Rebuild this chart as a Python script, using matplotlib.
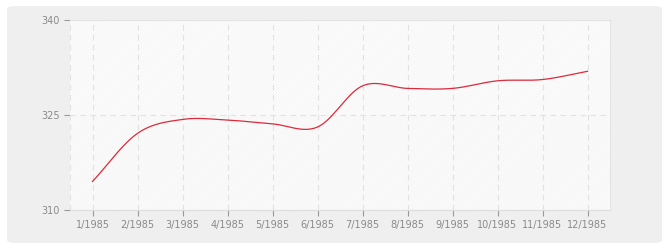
"""Monthly values for 1985, smooth line on a hatched panel."""

import matplotlib.pyplot as plt
import numpy as np
from matplotlib.patches import FancyBboxPatch

months = ["1/1985", "2/1985", "3/1985", "4/1985", "5/1985", "6/1985",
          "7/1985", "8/1985", "9/1985", "10/1985", "11/1985", "12/1985"]
values = [314.5, 322.1, 324.3, 324.2, 323.6, 323.1,
          329.6, 329.2, 329.2, 330.4, 330.6, 331.9]
y_ticks = [310, 325, 340]


def catmull_rom(x, y, steps=30):
    # smooth curve through every point, as the original renderer does
    x = np.asarray(x, dtype=float)
    y = np.asarray(y, dtype=float)
    px = np.concatenate([[2 * x[0] - x[1]], x, [2 * x[-1] - x[-2]]])
    py = np.concatenate([[2 * y[0] - y[1]], y, [2 * y[-1] - y[-2]]])
    out_x, out_y = [], []
    t = np.linspace(0, 1, steps, endpoint=False)
    for i in range(1, len(px) - 2):
        for arr, out in ((px, out_x), (py, out_y)):
            p0, p1, p2, p3 = arr[i - 1], arr[i], arr[i + 1], arr[i + 2]
            out.extend(0.5 * ((2 * p1) + (-p0 + p2) * t
                              + (2 * p0 - 5 * p1 + 4 * p2 - p3) * t ** 2
                              + (-p0 + 3 * p1 - 3 * p2 + p3) * t ** 3))
    out_x.append(x[-1])
    out_y.append(y[-1])
    return np.array(out_x), np.array(out_y)


plt.rcParams["hatch.linewidth"] = 0.5
fig = plt.figure(figsize=(6.7, 2.5), dpi=100)
fig.patch.set_facecolor("white")
fig.patches.append(FancyBboxPatch((7 / 670, 7 / 250), 655 / 670, 237 / 250,
                                  boxstyle="round,pad=0,rounding_size=0.012",
                                  transform=fig.transFigure, facecolor="#efefef",
                                  edgecolor="none", zorder=-10))

ax = fig.add_axes([70 / 670, 40 / 250, 540 / 670, 190 / 250])
ax.set_facecolor("white")
ax.axhspan(325, 340, facecolor="white", edgecolor="#f0f0f0", hatch="/" * 12, linewidth=0, zorder=0)
ax.axhspan(310, 325, facecolor="#fbfbfb", edgecolor="#f5f5f5", hatch="/" * 12, linewidth=0, zorder=0)

x = np.arange(len(months))
sx, sy = catmull_rom(x, values)
ax.plot(sx, sy, color="#dc2a3c", linewidth=0.9, zorder=3)

ax.set_xlim(-0.5, len(months) - 0.5)
ax.set_ylim(y_ticks[0], y_ticks[-1])
ax.set_xticks(x)
ax.set_xticklabels(months)
ax.set_yticks(y_ticks)
ax.grid(True, color="#e2e2e2", linestyle=(0, (5, 4)), linewidth=0.8)
ax.axvline(-0.5, color="#e2e2e2", linestyle=(0, (5, 4)), linewidth=0.8)
ax.tick_params(axis="both", colors="#999999", labelcolor="#8a8a8a", labelsize=7,
               length=4, width=0.8)
ax.tick_params(axis="x", pad=3)
for side in ("top", "right"):
    ax.spines[side].set_color("#e4e4e4")
ax.spines["left"].set_visible(False)
ax.spines["bottom"].set_color("#dddddd")

plt.savefig("out.png", dpi=100)
plt.close()
